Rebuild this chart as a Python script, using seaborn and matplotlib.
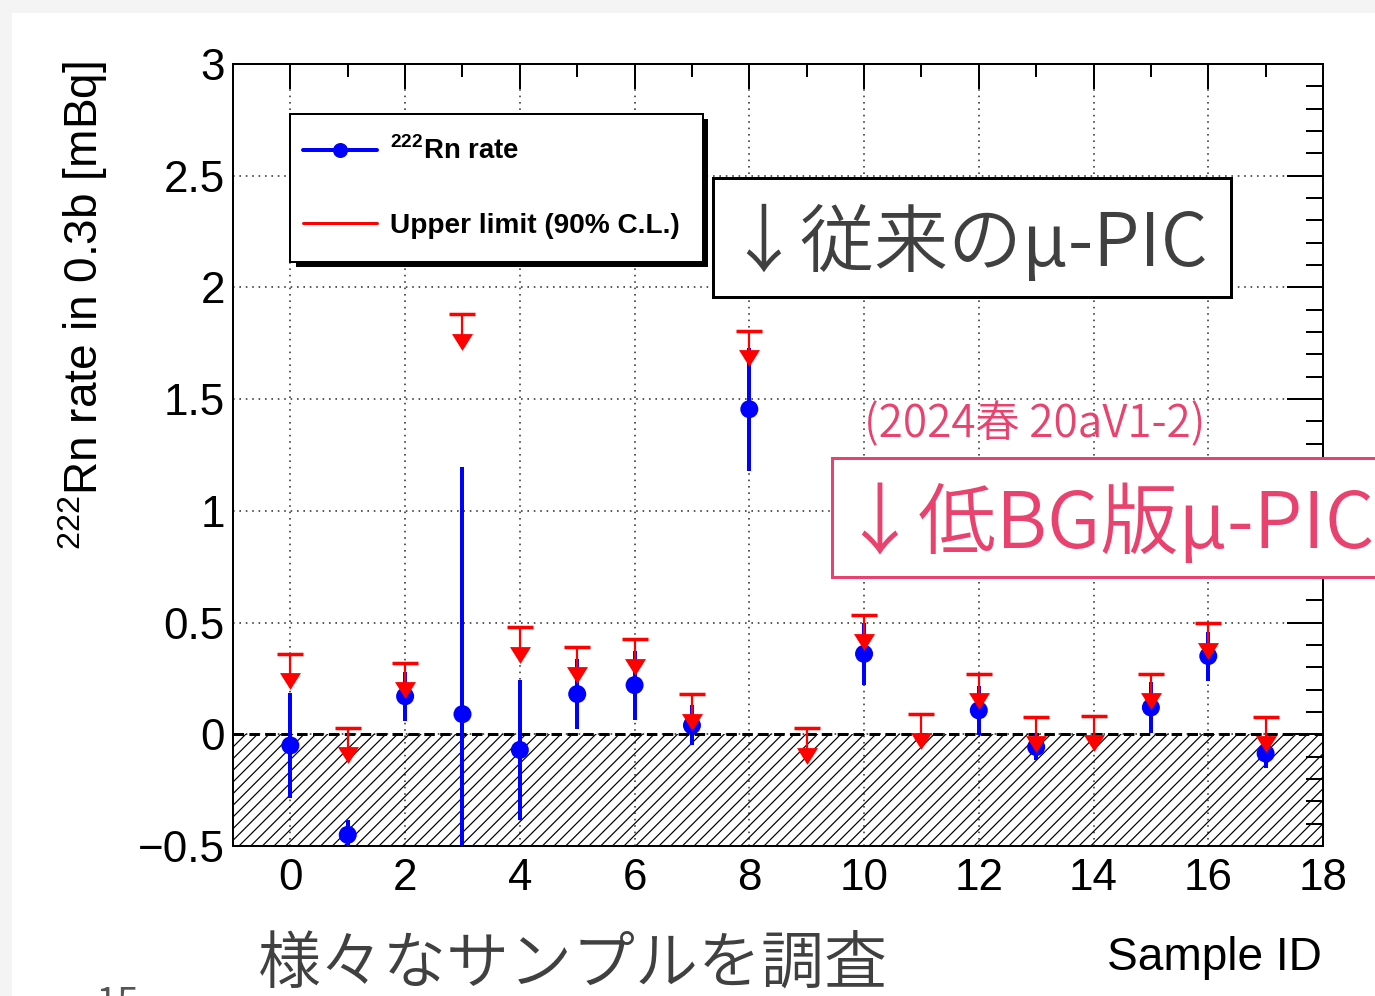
import numpy as np
import pandas as pd
import matplotlib
matplotlib.use("Agg")
import matplotlib.pyplot as plt
import seaborn as sns
from matplotlib.patches import Rectangle
from matplotlib.lines import Line2D
from matplotlib.ticker import MultipleLocator, FuncFormatter
from matplotlib.transforms import offset_copy

# ---------------- data ----------------
sample_id = list(range(18))
rate = [-0.05, -0.45, 0.17, 0.09, -0.07, 0.18, 0.22, 0.04, 1.455, np.nan,
        0.36, np.nan, 0.107, -0.057, np.nan, 0.12, 0.35, -0.086]
rate_err = [0.235, 0.065, 0.11, 1.105, 0.315, 0.155, 0.155, 0.09, 0.275, np.nan,
            0.14, np.nan, 0.11, 0.06, np.nan, 0.115, 0.11, 0.067]
upper_limit = [0.36, 0.03, 0.32, 1.88, 0.48, 0.39, 0.425, 0.18, 1.805, 0.028,
               0.536, 0.093, 0.27, 0.078, 0.082, 0.27, 0.496, 0.078]
x_ticks = list(range(0, 19, 2))
y_ticks = [-0.5, 0, 0.5, 1, 1.5, 2, 2.5, 3]

# ---------------- style ----------------
W, H, DPI = 1375, 996, 70
P = 72.0 / DPI  # points per pixel

sns.set_style("white")
plt.rcParams['font.family'] = ['Liberation Sans', 'Noto Sans CJK JP', 'DejaVu Sans']
plt.rcParams['mathtext.fontset'] = 'custom'
plt.rcParams['mathtext.rm'] = 'Liberation Sans'
plt.rcParams['mathtext.bf'] = 'Liberation Sans:bold'
plt.rcParams['hatch.linewidth'] = 1.2 * P

fig = plt.figure(figsize=(W / DPI, H / DPI), dpi=DPI, facecolor='#f4f4f4')

def fx(x):
    return x / W

def fy(y):
    return 1 - y / H

# white page
fig.add_artist(Rectangle((fx(12), 0), 1, fy(13), transform=fig.transFigure,
                         facecolor='white', edgecolor='none', zorder=-5))

ax = fig.add_axes([fx(233), fy(846), (1323 - 233) / W, (846 - 64) / H])
ax.set_facecolor('white')
ax.set_xlim(-1, 18)
ax.set_ylim(-0.5, 3)

# grid
ax.set_axisbelow(True)
ax.grid(True, which='major', color='#333333', linestyle=(0, (1, 3)), linewidth=1.6 * P)

# hatched excluded region and zero line
ax.axhspan(-0.5, 0, facecolor='none', edgecolor='black', hatch='//', linewidth=0, zorder=0.8)
ax.axhline(0, color='black', linestyle=(0, (3.5, 1.8)), linewidth=3 * P, zorder=1.5)

# blue measured rates
df = pd.DataFrame({'id': sample_id, 'rate': rate, 'err': rate_err, 'ul': upper_limit})
dm = df.dropna()
ax.errorbar(dm['id'], dm['rate'], yerr=dm['err'], fmt='none', ecolor='#0000ff',
            elinewidth=4 * P, capsize=0, zorder=3)
sns.scatterplot(data=dm, x='id', y='rate', ax=ax, color='#0000ff', s=(18 * P) ** 2,
                edgecolor='none', linewidth=0, zorder=4, legend=False)

# red upper limits
fig.canvas.draw()
ax_h_px = ax.get_window_extent().height
px2data = (3 - (-0.5)) / ax_h_px
stem_len = 26 * px2data
ax.vlines(df['id'], df['ul'] - stem_len, df['ul'], color='#ff0000', linewidth=2.2 * P, zorder=5)
ax.plot(df['id'], df['ul'], linestyle='none', marker='_', markersize=27 * P,
        markeredgewidth=3.5 * P, color='#ff0000', zorder=5)
tri = [(-1, 0.8), (1, 0.8), (0, -0.8)]
ax.plot(df['id'], df['ul'], linestyle='none', marker=tri, markersize=21 * P,
        color='#ff0000', markeredgewidth=0,
        transform=offset_copy(ax.transData, fig=fig, x=0, y=-27.5, units='dots'), zorder=6)

# axes / ticks
for s in ax.spines.values():
    s.set_linewidth(2 * P)
    s.set_color('black')
    s.set_zorder(7)
ax.set_xticks(x_ticks)
ax.set_xticklabels([str(t) for t in x_ticks])
ax.xaxis.set_minor_locator(MultipleLocator(1))
ax.set_yticks(y_ticks)
ax.yaxis.set_major_formatter(FuncFormatter(lambda v, p: f"{v:g}".replace('-', '\u2212')))
ax.yaxis.set_minor_locator(MultipleLocator(0.1))
ax.tick_params(axis='both', which='both', direction='in', top=True, right=True,
               width=2 * P, color='black', labelsize=44 * P, labelcolor='black')
ax.tick_params(axis='x', which='major', length=25 * P, pad=12 * P)
ax.tick_params(axis='x', which='minor', length=13 * P)
ax.tick_params(axis='y', which='major', length=36 * P, pad=8 * P)
ax.tick_params(axis='y', which='minor', length=17 * P)
ax.set_xlabel('')
ax.set_ylabel('')

# axis titles
fig.text(fx(98), fy(306), r'$^{222}$Rn rate in 0.3b [mBq]', rotation=90,
         rotation_mode='anchor', ha='center', va='baseline', fontsize=46 * P, color='black')
fig.text(fx(1322), fy(970), 'Sample ID', ha='right', va='baseline', fontsize=46 * P, color='black')

# legend (ROOT-style with shadow)
fig.add_artist(Rectangle((fx(296), fy(267)), fx(708 - 296), (267 - 119) / H, transform=fig.transFigure,
                         facecolor='black', edgecolor='none', zorder=8))
fig.add_artist(Rectangle((fx(290), fy(262)), fx(703 - 290), (262 - 114) / H, transform=fig.transFigure,
                         facecolor='white', edgecolor='black', linewidth=2 * P, zorder=9))
fig.add_artist(Line2D([fx(303), fx(377)], [fy(150), fy(150)], transform=fig.transFigure,
                      color='#0000ff', linewidth=4 * P, zorder=10))
fig.add_artist(Line2D([fx(340)], [fy(150)], transform=fig.transFigure, marker='o',
                      markersize=15 * P, color='#0000ff', markeredgewidth=0, zorder=10))
fig.add_artist(Line2D([fx(303), fx(377)], [fy(223), fy(223)], transform=fig.transFigure,
                      color='#ff0000', linewidth=3 * P, zorder=10))
fig.text(fx(390), fy(159), r'$^{\mathbf{222}}$Rn rate', ha='left', va='baseline',
         fontsize=27.5 * P, fontweight='bold', color='black', zorder=11)
fig.text(fx(390), fy(233), 'Upper limit (90% C.L.)', ha='left', va='baseline',
         fontsize=28 * P, fontweight='bold', color='black', zorder=11)

# annotation boxes
cjk = ['Noto Sans CJK JP', 'DejaVu Sans']
grey = '#404040'
pink = '#e9426e'
wt = 350
fig.add_artist(Rectangle((fx(713), fy(297)), fx(1231 - 713), (297 - 178) / H, transform=fig.transFigure,
                         facecolor='white', edgecolor='black', linewidth=3 * P, zorder=12))
fig.text(fx(726), fy(266), '↓従来のμ-PIC', ha='left', va='baseline', family=cjk,
         fontweight=wt, fontsize=74 * P, color=grey, zorder=13)

fig.text(fx(864), fy(437), '(2024春 20aV1-2)', ha='left', va='baseline', family=cjk,
         fontweight=wt, fontsize=44 * P, color=pink, zorder=13)

fig.add_artist(Rectangle((fx(832), fy(577)), fx(1400 - 832), (577 - 458) / H, transform=fig.transFigure,
                         facecolor='white', edgecolor=pink, linewidth=3 * P, zorder=12))
fig.text(fx(840), fy(548), '↓低BG版μ-PIC', ha='left', va='baseline', family=cjk,
         fontweight=wt, fontsize=78 * P, color=pink, zorder=13)

# slide footer texts
fig.text(fx(258), fy(983), '様々なサンプルを調査', ha='left', va='baseline', family=cjk,
         fontweight=wt, fontsize=63 * P, color=grey, zorder=13)
fig.text(fx(95), fy(1016), '15', ha='left', va='baseline', family=cjk,
         fontweight=wt, fontsize=40 * P, color='#555555', zorder=13)

fig.savefig('out.png', dpi=DPI, facecolor=fig.get_facecolor())
